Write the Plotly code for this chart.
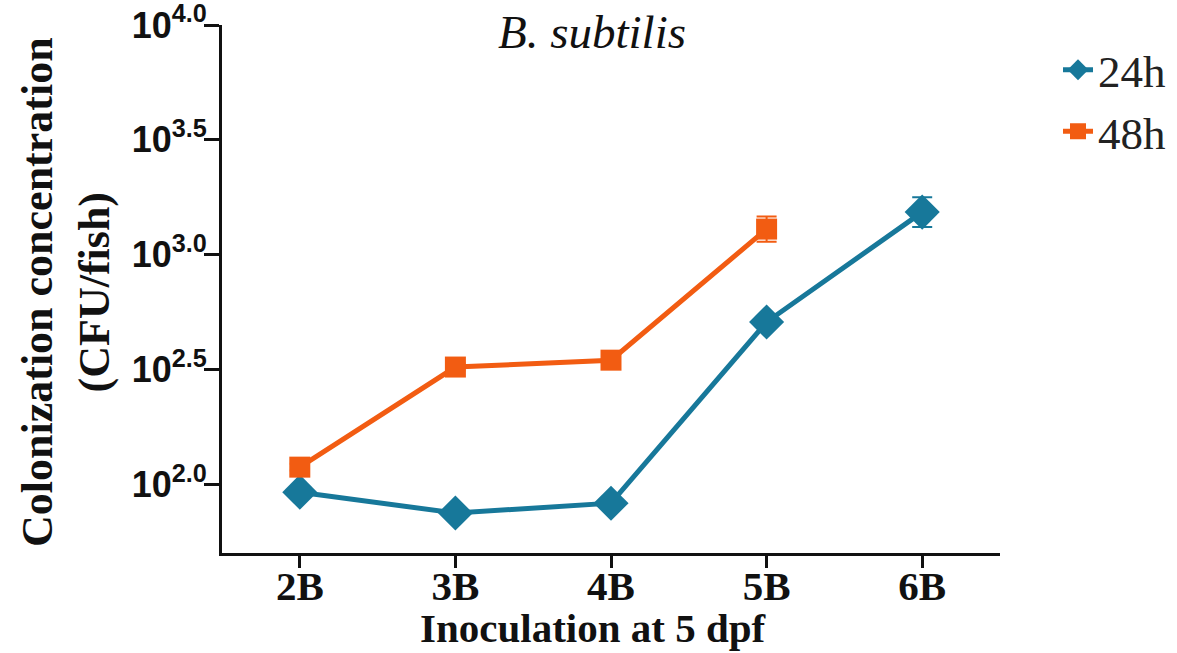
import plotly.graph_objects as go

categories = ["2B", "3B", "4B", "5B", "6B"]
# log10(CFU/fish)
log_24h = [1.965, 1.874, 1.917, 2.706, 3.185]
err_24h = [0.015, 0.015, 0.015, 0.02, 0.065]
log_48h = [2.074, 2.51, 2.54, 3.111]
err_48h = [0.015, 0.015, 0.015, 0.055]
ytick_exp = [2.0, 2.5, 3.0, 3.5, 4.0]

teal = "#17789A"
orange = "#F25C12"

def to_lin(vals):
    return [10 ** v for v in vals]

def err_plus(vals, errs):
    return [10 ** (v + e) - 10 ** v for v, e in zip(vals, errs)]

def err_minus(vals, errs):
    return [10 ** v - 10 ** (v - e) for v, e in zip(vals, errs)]

W, H = 1177, 653
L, R, T, B = 222, 177, 25, 100
pw, ph = W - L - R, H - T - B

def px_x(x):
    return (x - L) / pw

def px_y(y):
    return 1 - (y - T) / ph

fig = go.Figure()
fig.add_trace(go.Scatter(
    x=categories, y=to_lin(log_24h), name="24h", mode="lines+markers",
    line=dict(color=teal, width=5),
    marker=dict(symbol="diamond", size=27, color=teal),
    error_y=dict(type="data", array=err_plus(log_24h, err_24h),
                 arrayminus=err_minus(log_24h, err_24h),
                 color=teal, thickness=2, width=10),
))
fig.add_trace(go.Scatter(
    x=categories[:len(log_48h)], y=to_lin(log_48h), name="48h", mode="lines+markers",
    line=dict(color=orange, width=5),
    marker=dict(symbol="square", size=21, color=orange),
    error_y=dict(type="data", array=err_plus(log_48h, err_48h),
                 arrayminus=err_minus(log_48h, err_48h),
                 color=orange, thickness=2, width=10),
))

fig.update_layout(
    width=W, height=H,
    margin=dict(l=L, r=R, t=T, b=B, autoexpand=False),
    paper_bgcolor="white", plot_bgcolor="white",
    showlegend=True,
    legend=dict(x=px_x(1058), y=px_y(34), xanchor="left", yanchor="top",
                font=dict(family="Liberation Serif", size=45, color="#222"),
                bgcolor="rgba(0,0,0,0)", tracegroupgap=0),
    annotations=[
        dict(text="<i>B. subtilis</i>", x=px_x(592), y=px_y(32),
             xref="paper", yref="paper", xanchor="center", yanchor="middle",
             showarrow=False, font=dict(family="Liberation Serif", size=47, color="#111")),
        dict(text="<b>Inoculation at 5 dpf</b>", x=px_x(593), y=px_y(628),
             xref="paper", yref="paper", xanchor="center", yanchor="middle",
             showarrow=False, font=dict(family="Liberation Serif", size=41, color="#111")),
        dict(text="<b>Colonization concentration<br>(CFU/fish)</b>", x=px_x(66), y=px_y(292),
             xref="paper", yref="paper", xanchor="center", yanchor="middle",
             textangle=-90, showarrow=False,
             font=dict(family="Liberation Serif", size=44, color="#111")),
    ],
)

fig.update_xaxes(
    type="category", range=[-0.5, 4.5],
    showline=True, linecolor="#111", linewidth=3,
    ticks="outside", ticklen=12, tickwidth=3, tickcolor="#111",
    showgrid=False, zeroline=False, automargin=False,
    tickfont=dict(family="Liberation Serif", size=41, color="#111"),
    tickprefix="<b>", ticksuffix="</b>",
    ticklabelstandoff=-17,
)
fig.update_yaxes(
    type="log", range=[1.70, 4.0],
    showline=True, linecolor="#111", linewidth=3,
    ticks="outside", ticklen=15, tickwidth=3, tickcolor="#111",
    showgrid=False, zeroline=False, automargin=False,
    tickvals=[10 ** e for e in ytick_exp],
    ticktext=["<b>10<sup>%.1f</sup></b>" % e for e in ytick_exp],
    tickfont=dict(family="Liberation Sans", size=36, color="#111"),
    ticklabelstandoff=-10,
    ticklabeloverflow="allow",
)

fig.write_html("out.html")
